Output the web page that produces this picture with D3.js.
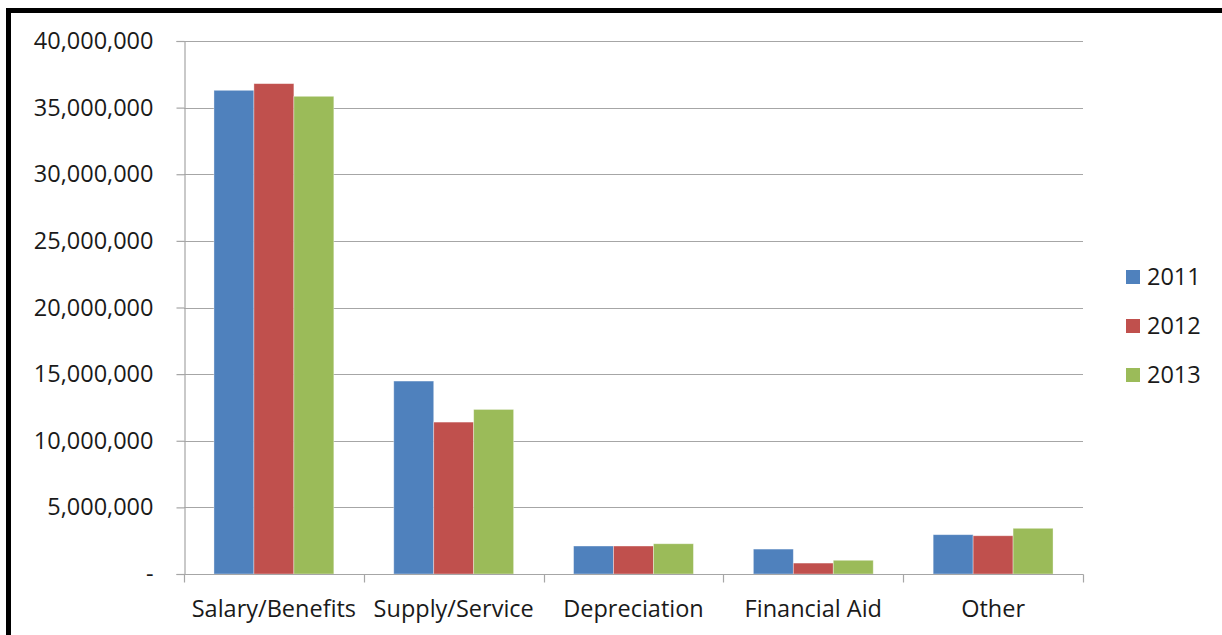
<!DOCTYPE html>
<html>
<head>
<meta charset="utf-8">
<script src="https://cdn.jsdelivr.net/npm/d3@7"></script>
<style>
  html, body { margin: 0; padding: 0; background: #fff; }
  svg { display: block; }
  text { font-family: "Open Sans", Lato, sans-serif; fill: #1a1a1a; }
</style>
</head>
<body>
<svg id="chart" width="1222" height="635"></svg>
<script>
// Expense categories and yearly totals
const categories = ["Salary/Benefits", "Supply/Service", "Depreciation", "Financial Aid", "Other"];
const years = ["2011", "2012", "2013"];
const values2011 = [36300000, 14480000, 2100000, 1870000, 2950000];
const values2012 = [36800000, 11400000, 2100000, 820000, 2870000];
const values2013 = [35850000, 12350000, 2270000, 1030000, 3430000];
const yTicks = [0, 5000000, 10000000, 15000000, 20000000, 25000000, 30000000, 35000000, 40000000];
const colors = ["#4F81BD", "#C0504D", "#9BBB59"];

const FONT = 23.5;

const seriesValues = [values2011, values2012, values2013];
const rows = categories.map((c, i) => ({
  category: c,
  values: years.map((y, j) => ({ year: y, value: seriesValues[j][i] }))
}));

const svg = d3.select("#chart");

// Outer frame (right and bottom edges run past the visible area)
svg.append("rect")
  .attr("x", 8.5).attr("y", 10.5)
  .attr("width", 1240).attr("height", 640)
  .attr("fill", "#fff").attr("stroke", "#000").attr("stroke-width", 5);

const plot = { left: 184, right: 1083, top: 41, bottom: 574 };

const x = d3.scaleBand().domain(categories).range([plot.left, plot.right]).padding(0);
const xInner = d3.scaleBand().domain(years)
  .range([0, x.bandwidth()]).paddingOuter(0.75).paddingInner(0);
const y = d3.scaleLinear().domain([0, 40000000]).range([plot.bottom, plot.top]);

const fmt = d => d === 0 ? "-" : d3.format(",")(d);

// Horizontal gridlines
svg.append("g")
  .selectAll("line")
  .data(yTicks.filter(d => d > 0))
  .join("line")
  .attr("x1", plot.left).attr("x2", plot.right)
  .attr("y1", d => Math.round(y(d)) + 0.5).attr("y2", d => Math.round(y(d)) + 0.5)
  .attr("stroke", "#a6a6a6").attr("stroke-width", 1.2);

// Bars
const groups = svg.append("g")
  .selectAll("g")
  .data(rows)
  .join("g")
  .attr("transform", d => `translate(${x(d.category)},0)`);

groups.selectAll("rect")
  .data(d => d.values)
  .join("rect")
  .attr("x", d => xInner(d.year))
  .attr("y", d => y(d.value))
  .attr("width", xInner.bandwidth())
  .attr("height", d => y(0) - y(d.value))
  .attr("fill", (d, i) => colors[i])
  .attr("stroke", "rgba(255,255,255,0.45)")
  .attr("stroke-width", 0.8);

// Y axis
const yAxis = svg.append("g")
  .attr("transform", `translate(${plot.left + 0.5},0)`)
  .call(d3.axisLeft(y).tickValues(yTicks).tickFormat(fmt).tickSize(8).tickPadding(23));
yAxis.select(".domain").attr("stroke", "#a6a6a6").attr("stroke-width", 1.2);
yAxis.selectAll(".tick line").attr("stroke", "#a6a6a6").attr("stroke-width", 1.2);
yAxis.selectAll(".tick text")
  .attr("font-size", FONT)
  .style("font-family", "'Open Sans', Lato, sans-serif")
  .attr("fill", "#1a1a1a");

// X axis with boundary ticks between categories
const xAxisG = svg.append("g").attr("transform", `translate(0,${plot.bottom + 0.5})`);
xAxisG.append("line")
  .attr("x1", plot.left).attr("x2", plot.right + 0.5)
  .attr("stroke", "#a6a6a6").attr("stroke-width", 1.2);
const boundaries = categories.map(c => x(c)).concat([x(categories[categories.length - 1]) + x.bandwidth()]);
xAxisG.selectAll("line.tk")
  .data(boundaries)
  .join("line")
  .attr("class", "tk")
  .attr("x1", d => Math.round(d) + 0.5).attr("x2", d => Math.round(d) + 0.5)
  .attr("y1", 0).attr("y2", 8)
  .attr("stroke", "#a6a6a6").attr("stroke-width", 1.2);
xAxisG.selectAll("text")
  .data(categories)
  .join("text")
  .attr("x", d => x(d) + x.bandwidth() / 2)
  .attr("y", 42)
  .attr("text-anchor", "middle")
  .attr("font-size", FONT)
  .text(d => d);

// Legend
const legend = svg.append("g").attr("transform", "translate(1126,270)");
const li = legend.selectAll("g")
  .data(years)
  .join("g")
  .attr("transform", (d, i) => `translate(0,${i * 49})`);
li.append("rect")
  .attr("width", 14).attr("height", 14)
  .attr("fill", (d, i) => colors[i]);
li.append("text")
  .attr("x", 21).attr("y", 7)
  .attr("dy", "0.36em")
  .attr("font-size", FONT)
  .text(d => d);
</script>
</body>
</html>
